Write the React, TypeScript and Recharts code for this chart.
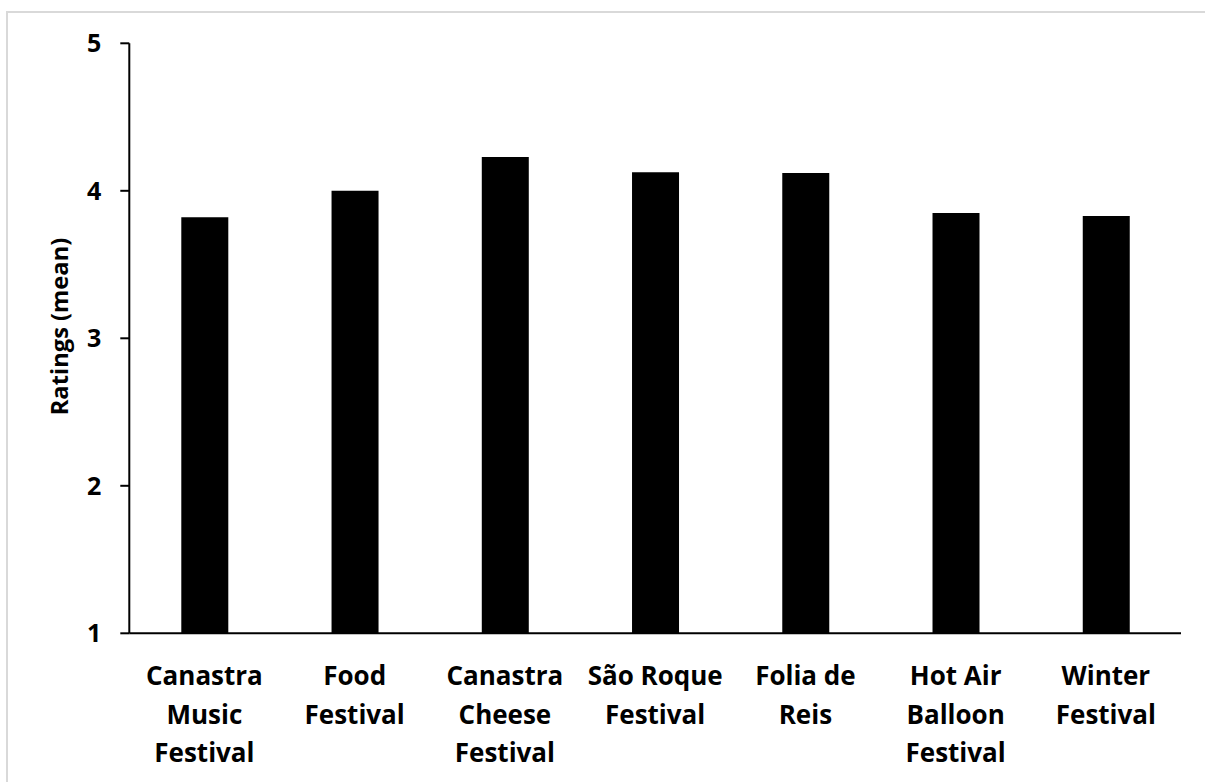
import React from 'react';
import { BarChart, Bar, XAxis, YAxis, Label } from 'recharts';

// Festival names (line breaks mark where each axis label wraps)
const festivals = [
  'Canastra\nMusic\nFestival',
  'Food\nFestival',
  'Canastra\nCheese\nFestival',
  'São Roque\nFestival',
  'Folia de\nReis',
  'Hot Air\nBalloon\nFestival',
  'Winter\nFestival',
];

// Mean rating per festival
const meanRatings = [3.82, 4.0, 4.23, 4.125, 4.12, 3.85, 3.83];

const yTicks = [1, 2, 3, 4, 5];
const yTitle = 'Ratings (mean)';

const data = festivals.map((name, i) => ({ name, rating: meanRatings[i] }));

const FONT = '"Open Sans", "DejaVu Sans", sans-serif';
const INK = '#000000';

const CategoryTick = (props: any) => {
  const { x, y, payload } = props;
  const lines = String(payload.value).split('\n');
  return (
    <text
      x={x}
      y={y}
      textAnchor="middle"
      fontFamily={FONT}
      fontWeight={700}
      fontSize={26}
      fill={INK}
    >
      {lines.map((line, i) => (
        <tspan key={i} x={x} dy={i === 0 ? 52 : 38.5}>
          {line}
        </tspan>
      ))}
    </text>
  );
};

const ValueTick = (props: any) => {
  const { x, y, payload } = props;
  return (
    <text
      x={x}
      y={y}
      dy="0.36em"
      textAnchor="end"
      fontFamily={FONT}
      fontWeight={700}
      fontSize={25}
      fill={INK}
    >
      {payload.value}
    </text>
  );
};

const YTitle = () => (
  <text
    x={67.7}
    y={326.5}
    transform="rotate(-90 67.7 326.5)"
    textAnchor="middle"
    fontFamily={FONT}
    fontWeight={700}
    fontSize={23.7}
    fill={INK}
  >
    {yTitle}
  </text>
);

export default function App() {
  return (
    <div
      style={{
        position: 'absolute',
        left: 0,
        top: 0,
        width: 1205,
        height: 782,
        overflow: 'hidden',
        background: '#ffffff',
      }}
    >
      <div
        style={{
          position: 'absolute',
          left: 6,
          top: 11,
          width: 1240,
          height: 800,
          border: '2px solid #d9d9d9',
        }}
      />
      <div style={{ position: 'absolute', left: 0, top: 0 }}>
        <BarChart
          width={1205}
          height={782}
          data={data}
          margin={{ top: 43.3, right: 24, bottom: 118.7, left: 0 }}
          barSize={47}
        >
          <XAxis
            dataKey="name"
            height={30}
            interval={0}
            tickLine={false}
            tickSize={0}
            tickMargin={0}
            axisLine={{ stroke: INK, strokeWidth: 2 }}
            tick={<CategoryTick />}
          />
          <YAxis
            type="number"
            domain={[1, 5]}
            ticks={yTicks}
            interval={0}
            width={129.3}
            tickSize={9}
            tickMargin={19}
            axisLine={{ stroke: INK, strokeWidth: 2 }}
            tickLine={{ stroke: INK, strokeWidth: 2 }}
            tick={<ValueTick />}
          >
            <Label content={<YTitle />} />
          </YAxis>
          <Bar dataKey="rating" fill={INK} isAnimationActive={false} />
        </BarChart>
      </div>
    </div>
  );
}
